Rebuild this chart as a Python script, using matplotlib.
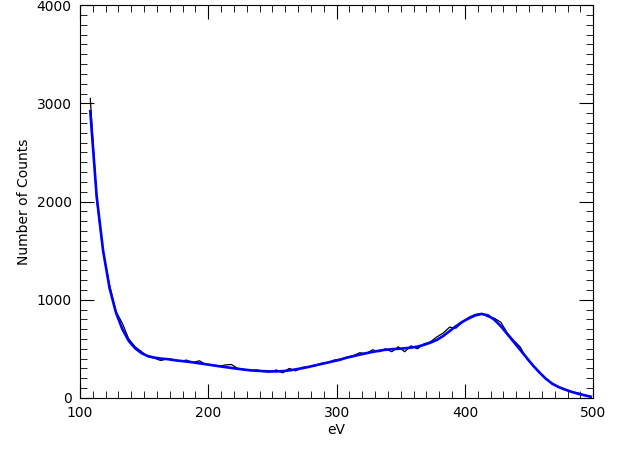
import numpy as np
import matplotlib
matplotlib.use("Agg")
import matplotlib.pyplot as plt
from matplotlib.ticker import MultipleLocator

# energy grid (eV)
ev = np.arange(108, 500, 5)

# measured counts (black)
counts = [3050, 2020, 1490, 1150, 880, 760, 600, 520, 470, 420,
          405, 380, 400, 390, 372, 385, 360, 378, 340, 338,
          320, 335, 340, 300, 290, 276, 285, 268, 262, 285,
          255, 300, 275, 310, 318, 325, 352, 356, 385, 395,
          415, 430, 460, 450, 490, 470, 500, 470, 520, 470,
          530, 500, 550, 570, 620, 660, 720, 710, 770, 820,
          850, 860, 825, 810, 770, 660, 585, 520, 400, 330,
          255, 200, 140, 115, 85, 62, 50, 30, 10]

# smooth fit (blue)
fit = [2920, 2050, 1500, 1120, 870, 700, 580, 505, 455, 425,
       410, 400, 395, 385, 377, 370, 362, 352, 343, 333,
       323, 314, 305, 296, 288, 281, 276, 272, 270, 270,
       272, 280, 290, 302, 315, 330, 345, 360, 375, 390,
       410, 425, 440, 455, 468, 480, 490, 496, 500, 505,
       512, 522, 540, 562, 590, 630, 680, 730, 775, 810,
       840, 855, 840, 795, 730, 650, 570, 490, 410, 330,
       260, 195, 145, 110, 85, 62, 43, 27, 12]

fig = plt.figure(figsize=(6.4, 4.67), dpi=100)
ax = fig.add_axes([0.125, 0.148, 0.802, 0.841])

ax.plot(ev, counts, color="black", lw=0.9)
ax.plot(ev, fit, color="#0000ff", lw=1.9)

ax.set_xlim(100, 500)
ax.set_ylim(0, 4000)
ax.xaxis.set_major_locator(MultipleLocator(100))
ax.xaxis.set_minor_locator(MultipleLocator(10))
ax.yaxis.set_major_locator(MultipleLocator(1000))
ax.yaxis.set_minor_locator(MultipleLocator(100))
ax.tick_params(which="both", direction="in", top=True, right=True,
               labelsize=10, color="black")
ax.tick_params(which="major", length=10, pad=6)
ax.tick_params(which="minor", length=5)
for s in ax.spines.values():
    s.set_linewidth(0.8)

ax.set_xlabel("eV", fontsize=10, labelpad=2)
ax.set_ylabel("Number of Counts", fontsize=10, labelpad=4)

fig.savefig("out.png", dpi=100)
